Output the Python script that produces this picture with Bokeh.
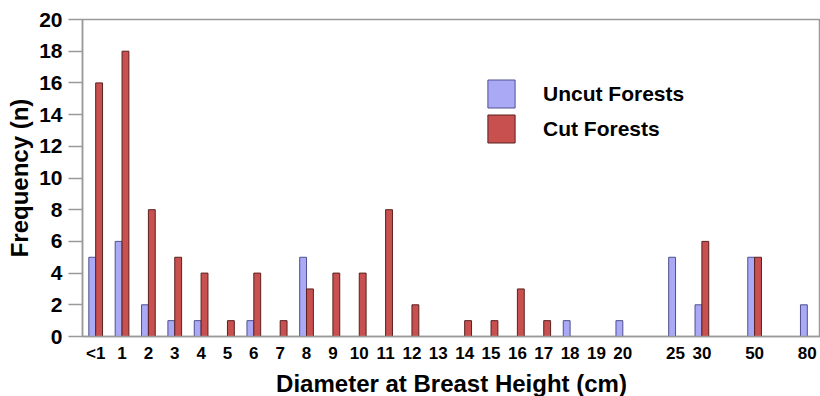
from bokeh.plotting import figure
from bokeh.models import (ColumnDataSource, FactorRange, Range1d, FixedTicker,
                          Legend, LegendItem)
from bokeh.transform import dodge
from bokeh.embed import file_html
from bokeh.resources import INLINE

# Diameter classes (blank strings are empty gap slots on the axis)
categories = ["<1", "1", "2", "3", "4", "5", "6", "7", "8", "9", "10",
              "11", "12", "13", "14", "15", "16", "17", "18", "19", "20",
              " ", "25", "30", "  ", "50", "   ", "80"]
uncut = [5, 6, 2, 1, 1, 0, 1, 0, 5, 0, 0,
         0, 0, 0, 0, 0, 0, 0, 1, 0, 1,
         0, 5, 2, 0, 5, 0, 2]
cut = [16, 18, 8, 5, 4, 1, 4, 1, 3, 4, 4,
       8, 2, 0, 1, 1, 3, 1, 0, 0, 0,
       0, 0, 6, 0, 5, 0, 0]
y_ticks = [0, 2, 4, 6, 8, 10, 12, 14, 16, 18, 20]

FONT = "Liberation Sans"
GRAY = "#9a9a9a"

src = ColumnDataSource(dict(cat=categories, uncut=uncut, cut=cut))

p = figure(x_range=FactorRange(*categories), y_range=Range1d(0, 20),
           frame_width=738, frame_height=317,
           min_border_left=82, min_border_top=19, min_border_right=0,
           min_border_bottom=58,
           output_backend="svg", toolbar_location=None)

p.xgrid.grid_line_color = None
p.ygrid.grid_line_color = None
p.outline_line_color = GRAY
p.outline_line_width = 1.5
p.background_fill_color = "white"
p.border_fill_color = "white"

r_uncut = p.vbar(x=dodge("cat", -0.13, range=p.x_range), top="uncut", width=0.26,
                 source=src, fill_color="#a9a9f5", line_color="#50508f",
                 line_width=1)
r_cut = p.vbar(x=dodge("cat", 0.13, range=p.x_range), top="cut", width=0.26,
               source=src, fill_color="#c8504f", line_color="#5a2020",
               line_width=1)

# y axis
ya = p.yaxis[0]
ya.ticker = FixedTicker(ticks=y_ticks)
ya.minor_tick_line_color = None
ya.major_tick_out = 14
ya.major_tick_in = 0
ya.major_tick_line_color = GRAY
ya.major_tick_line_width = 1.5
ya.axis_line_color = GRAY
ya.axis_line_width = 1.5
ya.major_label_standoff = 6
ya.major_label_text_font = FONT
ya.major_label_text_font_style = "bold"
ya.major_label_text_font_size = "21px"
ya.major_label_text_color = "black"
ya.axis_label = "Frequency (n)"
ya.axis_label_text_font = FONT
ya.axis_label_text_font_style = "bold"
ya.axis_label_text_font_size = "24px"
ya.axis_label_text_color = "black"
ya.axis_label_standoff = 3

# x axis
xa = p.xaxis[0]
xa.major_tick_line_color = None
xa.minor_tick_line_color = None
xa.axis_line_color = GRAY
xa.axis_line_width = 1.5
xa.major_label_standoff = 1
xa.major_label_text_font = FONT
xa.major_label_text_font_style = "bold"
xa.major_label_text_font_size = "17px"
xa.major_label_text_color = "black"
xa.axis_label = "Diameter at Breast Height (cm)"
xa.axis_label_text_font = FONT
xa.axis_label_text_font_style = "bold"
xa.axis_label_text_font_size = "24px"
xa.axis_label_text_color = "black"
xa.axis_label_standoff = 4

legend = Legend(items=[LegendItem(label="Uncut Forests", renderers=[r_uncut]),
                       LegendItem(label="Cut Forests", renderers=[r_cut])],
                location=(402, 190), orientation="vertical",
                glyph_width=34, glyph_height=35, label_height=35,
                label_standoff=25, spacing=-1, padding=0, margin=0,
                border_line_color=None, background_fill_alpha=0,
                label_text_font=FONT, label_text_font_style="bold",
                label_text_font_size="21px", label_text_color="black")
p.add_layout(legend, "center")

open("out.html", "w").write(file_html(p, INLINE))
